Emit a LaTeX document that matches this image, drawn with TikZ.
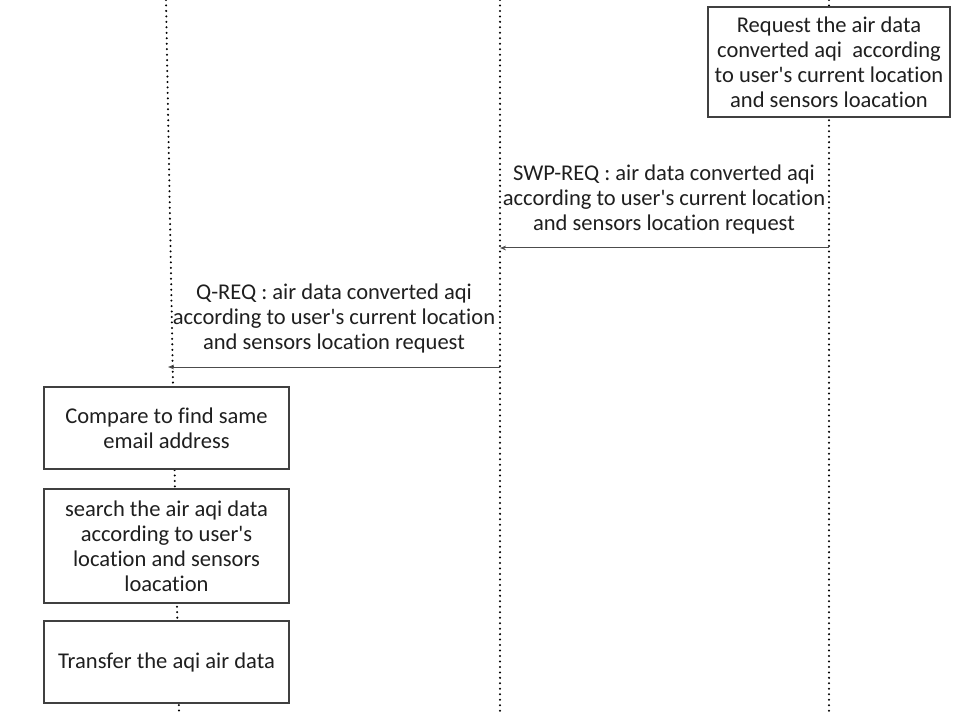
\documentclass[tikz,border=0pt]{standalone}
\usepackage{fontspec}
\setmainfont{Carlito}[Ligatures={NoCommon,NoRare,NoContextual}]
\usetikzlibrary{arrows.meta}
\newcommand\aps{\textquotesingle}
\begin{document}
\begin{tikzpicture}[x=0.75pt,y=-0.75pt,
  txt/.style={font=\fontsize{16.9}{18.75}\selectfont, text=black!88},
  box/.style={txt, draw=black!75, line width=0.9pt, fill=white, align=center, inner sep=0pt},
  msg/.style={txt, align=center, inner sep=0pt},
  life/.style={line width=1.7pt, dash pattern=on 0pt off 4.1pt, line cap=round, draw=black},
  call/.style={draw=black!70, line width=0.75pt, -{Stealth[length=4.5pt,width=3.5pt]}}]
\useasboundingbox (0,0) rectangle (968,713);
% lifelines
\coordinate (Lt) at (166,0);   \coordinate (Lb) at (179,713);
\coordinate (Mt) at (500,0);   \coordinate (Mb) at (500,713);
\coordinate (Rt) at (829,0);   \coordinate (Rb) at (829,713);
\draw[life] (Lt) -- (Lb);
\draw[life] (Mt) -- (Mb);
\draw[life] (Rt) -- (Rb);
% boxes
\node[box, minimum width=181.5pt, minimum height=82.5pt] (req) at (829,62)
  {Request the air data\\converted aqi\ \ according\\to user\aps s current location\\and sensors loacation};
\node[box, minimum width=183.75pt, minimum height=61.5pt] (cmp) at (166.5,428)
  {Compare to find same\\email address};
\node[box, minimum width=183.75pt, minimum height=85.5pt] (srch) at (166.5,546)
  {search the air aqi data\\according to user\aps s\\location and sensors\\loacation};
\node[box, minimum width=183.75pt, minimum height=61.5pt] (trf) at (166.5,662)
  {Transfer the aqi air data};
% messages
\coordinate (s1) at (829,248); \coordinate (e1) at (500,248);
\coordinate (s2) at (500,367); \coordinate (e2) at (168,367);
\draw[call] (s1) -- (e1);
\draw[call] (s2) -- (e2);
\node[msg] (m1) at (664,199) {SWP-REQ : air data converted aqi\\according to user\aps s current location\\and sensors location request};
\node[msg] (m2) at (334,318) {Q-REQ : air data converted aqi\\according to user\aps s current location\\and sensors location request};
\end{tikzpicture}
\end{document}
